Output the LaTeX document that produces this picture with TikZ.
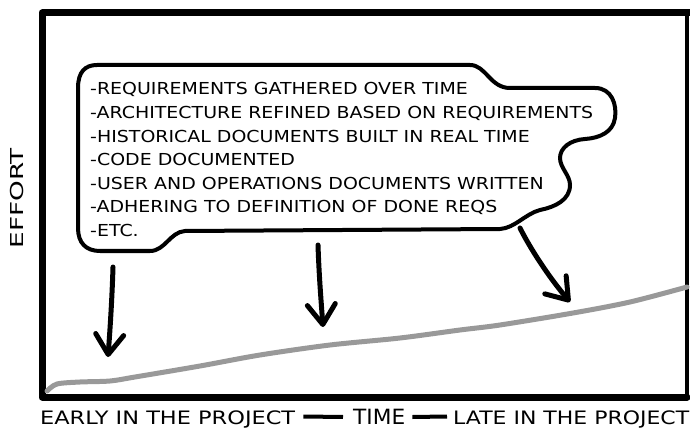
\documentclass[tikz,border=0pt]{standalone}
\usepackage{fontspec}
\setmainfont{DejaVu Sans}
\usepackage{graphicx}
\usetikzlibrary{arrows.meta}

\newlength\widestline

\begin{document}
% horizontal stretch shared by all lines of the note
\settowidth\widestline{\fontsize{16.5}{20}\selectfont -ARCHITECTURE REFINED BASED ON REQUIREMENTS}%
\pgfmathsetmacro\notescale{503/\widestline}%
\begin{tikzpicture}[x=1pt,y=-1pt,
  frame/.style={line width=7pt, line cap=round, line join=round},
  sideframe/.style={line width=4pt, line cap=round},
  bubble/.style={draw, line width=4pt, line join=round},
  effortline/.style={line width=5pt, color=black!40, line cap=round},
  pointer/.style={line width=5pt, line cap=round,
    -{Straight Barb[length=20pt,width=28pt,round]}},
  bubbletext/.style={anchor=base west, inner sep=0pt,
    font=\fontsize{16.5}{20}\selectfont},
  axistext/.style={anchor=base west, inner sep=0pt, text depth=0pt,
    font=\fontsize{18.5}{22}\selectfont},
  bar/.style={line width=4pt},
]
\useasboundingbox (0,0) rectangle (690,430);

% frame of the chart
\draw[frame] (690,13) -- (42,13) -- (42,397) -- (687,397);
\draw[sideframe] (687,13) -- (687,397);

% effort over time
\draw[effortline] plot[smooth, tension=0.5] coordinates {
  (47,391) (57,384) (80,382) (110,381) (135,377) (200,366) (260,355)
  (330,345) (400,338) (460,330) (500,325) (573,313) (630,302) (687,287)};

% note bubble
\draw[bubble] (97,65) -- (470,65)
  .. controls (486,65) and (490,88) .. (510,88) -- (595,88)
  .. controls (612,88) and (617,105) .. (615,118)
  .. controls (613,132) and (600,138) .. (585,139)
  .. controls (570,140) and (560,148) .. (560,158)
  .. controls (560,168) and (570,175) .. (570,185)
  .. controls (570,200) and (555,207) .. (540,210)
  .. controls (525,214) and (515,228) .. (500,229)
  -- (185,231)
  .. controls (170,232) and (165,251) .. (150,251)
  -- (100,251)
  .. controls (86,251) and (78,243) .. (78,228)
  -- (78,88)
  .. controls (78,72) and (85,65) .. (97,65) -- cycle;

\node[bubbletext] (l1) at (90,95)    {\scalebox{\notescale}[1]{-REQUIREMENTS GATHERED OVER TIME}};
\node[bubbletext] (l2) at (90,118.6) {\scalebox{\notescale}[1]{-ARCHITECTURE REFINED BASED ON REQUIREMENTS}};
\node[bubbletext] (l3) at (90,142.2) {\scalebox{\notescale}[1]{-HISTORICAL DOCUMENTS BUILT IN REAL TIME}};
\node[bubbletext] (l4) at (90,165.8) {\scalebox{\notescale}[1]{-CODE DOCUMENTED}};
\node[bubbletext] (l5) at (90,189.4) {\scalebox{\notescale}[1]{-USER AND OPERATIONS DOCUMENTS WRITTEN}};
\node[bubbletext] (l6) at (90,213)   {\scalebox{\notescale}[1]{-ADHERING TO DEFINITION OF DONE REQS}};
\node[bubbletext] (l7) at (90,236.6) {\scalebox{\notescale}[1]{-ETC.}};

% pointers from the note down to the curve
\coordinate (p1s) at (113,267);
\coordinate (p1e) at (108,357);
\coordinate (p2s) at (318,245);
\coordinate (p2e) at (323,327);
\coordinate (p3s) at (520,228);
\coordinate (p3e) at (570,302);
\draw[pointer] (p1s) .. controls (112,300) and (110,330) .. (p1e);
\draw[pointer] (p2s) .. controls (319,275) and (321,300) .. (p2e);
\draw[pointer] (p3s) .. controls (530,248) and (548,276) .. (p3e);

% axis labels
\node[rotate=90, anchor=base, inner sep=0pt,
  font=\fontsize{17.8}{20}\selectfont] (effort) at (23,198)
  {\resizebox{100pt}{\height}{EFFORT}};
\node[axistext] (early) at (40,424) {\resizebox{255pt}{\height}{EARLY IN THE PROJECT}};
\node[axistext, font=\fontsize{21}{24}\selectfont] (time) at (353,424.5)
  {\resizebox{52pt}{\height}{TIME}};
\node[axistext] (late) at (453,424) {\resizebox{236pt}{\height}{LATE IN THE PROJECT}};
\draw[bar] ([xshift=8pt,yshift=7.5pt]early.base east) -- ([xshift=-10pt,yshift=7.5pt]time.base west);
\draw[bar] ([xshift=7pt,yshift=7.5pt]time.base east) -- ([xshift=-6pt,yshift=7.5pt]late.base west);
\end{tikzpicture}
\end{document}
